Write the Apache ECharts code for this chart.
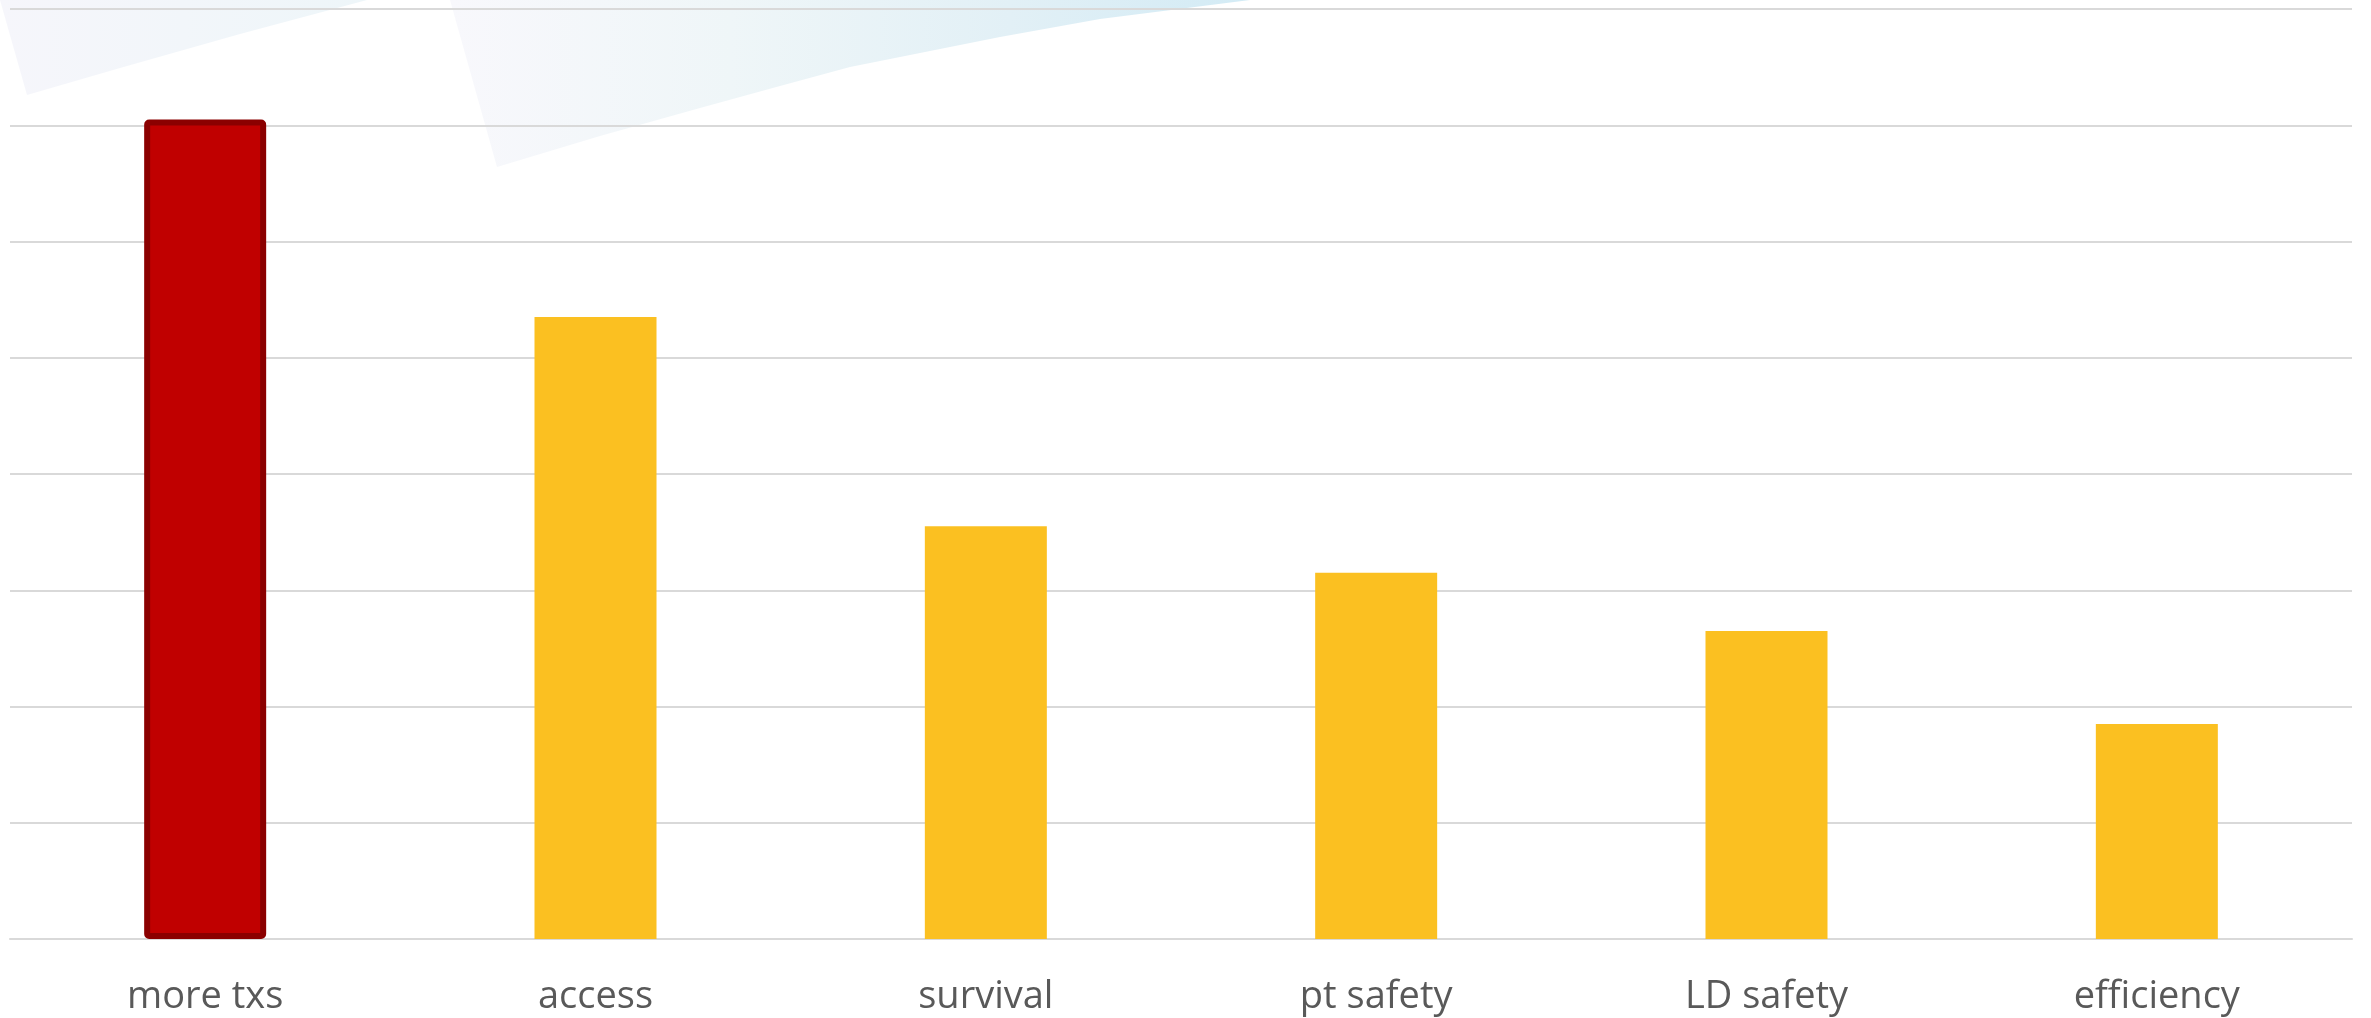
<!DOCTYPE html>
<html>
<head>
<meta charset="utf-8">
<style>
  html, body { margin: 0; padding: 0; background: #ffffff; }
  #chart { width: 2371px; height: 1018px; }
</style>
<script src="https://cdn.jsdelivr.net/npm/echarts@6/dist/echarts.min.js"></script>
</head>
<body>
<div id="chart"></div>
<script>
// Categories and values
const categories = ['more txs', 'access', 'survival', 'pt safety', 'LD safety', 'efficiency'];
const values = [7.05, 5.35, 3.55, 3.15, 2.65, 1.85];
const highlightIndex = 0;

const chart = echarts.init(document.getElementById('chart'), null, { renderer: 'canvas' });

const barData = values.map((v, i) => i === highlightIndex
  ? { value: v, itemStyle: { color: '#C00000', borderColor: '#8B0000', borderWidth: 6, borderRadius: 2 } }
  : { value: v, itemStyle: { color: '#FBC021' } });

const option = {
  backgroundColor: '#ffffff',
  animation: false,
  graphic: [
    {
      type: 'polygon',
      z: -10,
      silent: true,
      shape: { points: [[0, 0], [27, 95], [120, 68], [240, 34], [367, 0]] },
      style: {
        fill: new echarts.graphic.LinearGradient(0, 0, 1, 0, [
          { offset: 0, color: '#F6F6FB' },
          { offset: 1, color: '#EEF6F9' }
        ])
      }
    },
    {
      type: 'polygon',
      z: -10,
      silent: true,
      shape: { points: [[450, 0], [497, 167], [600, 136], [700, 108], [780, 86], [850, 67], [900, 57], [1000, 37], [1100, 19], [1250, 0]] },
      style: {
        fill: new echarts.graphic.LinearGradient(0, 0, 1, 0, [
          { offset: 0, color: '#F8F8FC' },
          { offset: 0.35, color: '#EFF6F8' },
          { offset: 0.7, color: '#E2F0F6' },
          { offset: 1, color: '#D3EBF5' }
        ])
      }
    }
  ],
  grid: { left: 10, right: 19, top: 9, bottom: 79, containLabel: false },
  xAxis: {
    type: 'category',
    data: categories,
    axisLine: { show: true, lineStyle: { color: '#D9D9D9', width: 2 } },
    axisTick: { show: false },
    axisLabel: {
      color: '#595959',
      fontFamily: 'Open Sans',
      fontSize: 38,
      margin: 39
    }
  },
  yAxis: {
    type: 'value',
    min: 0,
    max: 8,
    interval: 1,
    axisLine: { show: false },
    axisTick: { show: false },
    axisLabel: { show: false },
    splitLine: { show: true, lineStyle: { color: '#D9D9D9', width: 2 } }
  },
  series: [
    {
      type: 'bar',
      data: barData,
      barWidth: 122
    }
  ]
};

chart.setOption(option);
</script>
</body>
</html>
